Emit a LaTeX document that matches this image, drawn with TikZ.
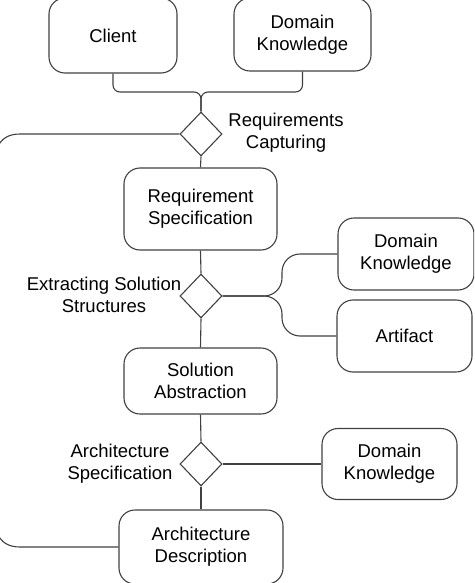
\documentclass[tikz,border=0pt]{standalone}
\usepackage{fontspec}
\setmainfont{Liberation Sans}
\usetikzlibrary{shapes.geometric}
\definecolor{linegray}{HTML}{404040}
\begin{document}
\begin{tikzpicture}[x=1pt, y=-1pt,
    every node/.style={font=\fontsize{18.5pt}{22pt}\selectfont, align=center},
    box/.style={draw=linegray, line width=1.1pt, rounded corners=16pt, inner sep=0pt},
    gate/.style={draw=linegray, line width=1.1pt, diamond, minimum width=42pt, minimum height=44pt, inner sep=0pt},
    link/.style={draw=linegray, line width=1.1pt}]
    \useasboundingbox (0,0) rectangle (474,583);
    \clip (0,0) rectangle (474,583);

    % Draw the boxes
    \node[box, minimum width=128pt, minimum height=75pt] (client) at (113, 35.5) {Client};
    \node[box, minimum width=137pt, minimum height=73pt] (dkA) at (302.5, 34.5) {Domain\\Knowledge};
    \node[box, minimum width=153pt, minimum height=82pt] (reqspec) at (200.5, 209) {Requirement\\Specification};
    \node[box, minimum width=136pt, minimum height=72pt] (dkB) at (406, 254) {Domain\\Knowledge};
    \node[box, minimum width=135pt, minimum height=72pt] (artifact) at (404.5, 336) {Artifact};
    \node[box, minimum width=153pt, minimum height=66pt] (solabs) at (200.5, 381) {Solution\\Abstraction};
    \node[box, minimum width=135pt, minimum height=71pt] (dkC) at (389.5, 464) {Domain\\Knowledge};
    \node[box, minimum width=164pt, minimum height=74pt] (archdesc) at (201, 547) {Architecture\\Description};

    % Draw the activity diamonds and their labels
    \node[gate] (capture) at (201, 134) {};
    \node[gate] (extract) at (201, 296) {};
    \node[gate] (archspec) at (201, 464) {};
    \node (captureLabel) at (286, 133) {Requirements\\Capturing};
    \node (extractLabel) at (104, 295) {Extracting Solution\\Structures};
    \node (archspecLabel) at (120, 464) {Architecture\\Specification};

    % Draw the connections
    \draw[link, rounded corners=7pt] (client.south) |- (201, 92) -- (capture.north);
    \draw[link, rounded corners=7pt] (dkA.south) |- (201, 92) -- (capture.north);
    \draw[link] (capture.west) -- (20, 134) .. controls (8, 134) and (1, 139) .. (-3, 148)
        -- (-40, 230) -- (-40, 450) -- (-3, 533) .. controls (1, 542) and (8, 547) .. (20, 547)
        -- (archdesc.west);
    \draw[link] (capture.south) -- (reqspec.north);
    \draw[link] (reqspec.south) -- (extract.north);
    \draw[link, rounded corners=18pt] (extract.east) -| (282, 254) -- (dkB.west);
    \draw[link, rounded corners=18pt] (extract.east) -| (282, 336) -- (artifact.west);
    \draw[link] (extract.south) -- (solabs.north);
    \draw[link] (solabs.south) -- (archspec.north);
    \draw[link] (archspec.east) -- (dkC.west);
    \draw[link] (archspec.south) -- (archdesc.north);
\end{tikzpicture}
\end{document}
